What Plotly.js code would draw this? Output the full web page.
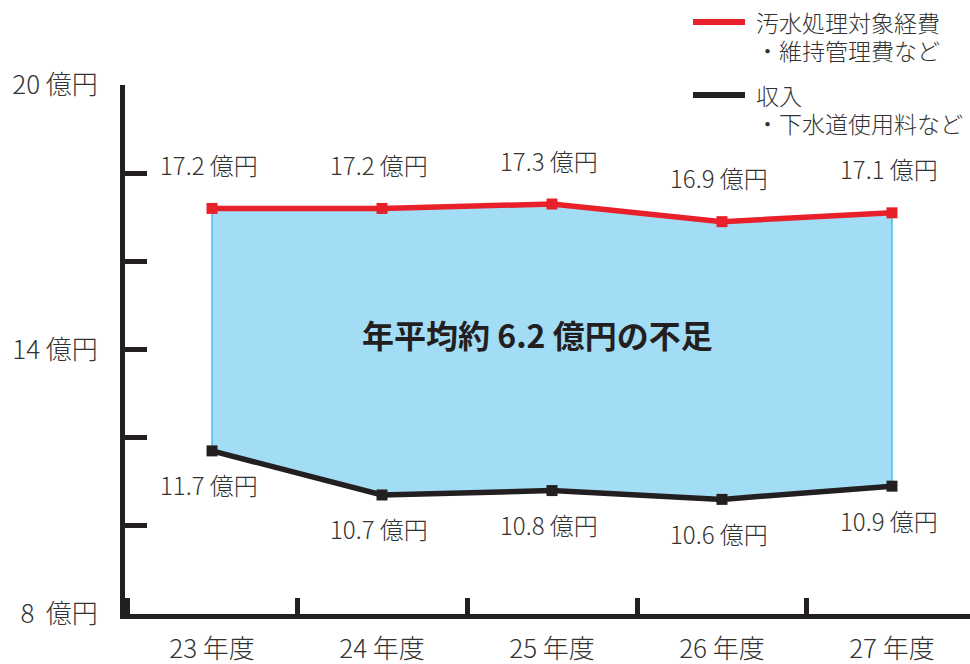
<!DOCTYPE html>
<html>
<head>
<meta charset="utf-8">
<script src="https://cdn.plot.ly/plotly-3.0.1.min.js"></script>
<style>html,body{margin:0;padding:0;background:#fff;}#chart{width:970px;height:664px;}</style>
</head>
<body>
<div id="chart"></div>
<script>
// ---- data ----
const years = ['23 年度', '24 年度', '25 年度', '26 年度', '27 年度'];
const expense = [17.2, 17.2, 17.3, 16.9, 17.1];   // 汚水処理対象経費
const income = [11.7, 10.7, 10.8, 10.6, 10.9];    // 収入
const yTickVals = [8, 10, 12, 14, 16, 18, 20];
const yTickText = ['8  億円', '', '', '14 億円', '', '', '20 億円'];
const expenseName = ['汚水処理対象経費', '・維持管理費など'];
const incomeName = ['収入', '・下水道使用料など'];
const centerText = '年平均約 6.2 億円の不足';
const unit = ' 億円';

// ---- style ----
const FONT = '"Noto Sans CJK JP", "Noto Sans", sans-serif';
const RED = '#e8202a';
const BLACK = '#231f20';
const TEXT = '#333333';
const FILL = '#a3dcf5';
const EDGE = '#45bdf0';

const L = 125, R = 0, T = 85, B = 50, W = 970, H = 664;
const pw = W - L - R, ph = H - T - B;
const px = v => (v - L) / pw;
const py = v => (H - B - v) / ph;

const last = years.length - 1;
const traces = [
  {x: years, y: expense, mode: 'lines', line: {color: 'rgba(0,0,0,0)', width: 0}, hoverinfo: 'skip', showlegend: false},
  {x: years, y: income, mode: 'lines', fill: 'tonexty', fillcolor: FILL, line: {color: 'rgba(0,0,0,0)', width: 0}, hoverinfo: 'skip', showlegend: false},
  {x: [years[0], years[0], null, years[last], years[last]],
   y: [expense[0], income[0], null, expense[last], income[last]],
   mode: 'lines', line: {color: EDGE, width: 1.5}, hoverinfo: 'skip', showlegend: false},
  {x: years, y: expense, mode: 'lines+markers', line: {color: RED, width: 5.5},
   marker: {symbol: 'square', size: 11, color: RED}, cliponaxis: false, showlegend: false},
  {x: years, y: income, mode: 'lines+markers', line: {color: BLACK, width: 5.5},
   marker: {symbol: 'square', size: 11, color: BLACK}, cliponaxis: false, showlegend: false}
];

const lblFont = {family: FONT, size: 24, color: TEXT, weight: 300};
const annotations = [];
years.forEach((c, i) => {
  annotations.push({x: c, y: expense[i], xref: 'x', yref: 'y', text: expense[i].toFixed(1) + unit,
    showarrow: false, yshift: 44, xshift: -3, font: lblFont});
  annotations.push({x: c, y: income[i], xref: 'x', yref: 'y', text: income[i].toFixed(1) + unit,
    showarrow: false, yshift: -34, xshift: -3, font: lblFont});
});
annotations.push({x: 2, y: (Math.max(...expense) + Math.min(...income)) / 2, xref: 'x', yref: 'y',
  text: '<b>' + centerText + '</b>', showarrow: false, xshift: -15, yshift: 18,
  font: {family: FONT, size: 32, color: BLACK}});
const legFont = {family: FONT, size: 23, color: TEXT, weight: 300};
[[expenseName, 22], [incomeName, 95]].forEach(([lines, y0]) => {
  lines.forEach((t, k) => {
    annotations.push({x: px(755), y: py(y0 + k * 28), xref: 'paper', yref: 'paper', xanchor: 'left', yanchor: 'middle',
      text: t, showarrow: false, font: legFont, borderpad: 0});
  });
});

const shapes = [
  {type: 'line', xref: 'paper', yref: 'paper', x0: px(693), x1: px(745), y0: py(22), y1: py(22), line: {color: RED, width: 6}},
  {type: 'line', xref: 'paper', yref: 'paper', x0: px(693), x1: px(745), y0: py(95), y1: py(95), line: {color: BLACK, width: 6}}
];

const layout = {
  width: W, height: H,
  margin: {l: L, r: R, t: T, b: B, pad: 0},
  paper_bgcolor: '#ffffff', plot_bgcolor: 'rgba(0,0,0,0)',
  showlegend: false,
  font: {family: FONT, color: TEXT},
  xaxis: {
    type: 'category', range: [-0.512, 4.459], tickson: 'boundaries',
    showline: true, linecolor: BLACK, linewidth: 5,
    ticks: 'inside', ticklen: 16, tickwidth: 5, tickcolor: BLACK,
    showgrid: false, zeroline: false, fixedrange: true,
    tickfont: {family: FONT, size: 26, color: TEXT, weight: 300}, ticklabelstandoff: 8
  },
  yaxis: {
    range: [8, 20], tickmode: 'array', tickvals: yTickVals, ticktext: yTickText,
    showline: true, linecolor: BLACK, linewidth: 5,
    ticks: 'inside', ticklen: 22, tickwidth: 5, tickcolor: BLACK,
    showgrid: false, zeroline: false, fixedrange: true,
    tickfont: {family: FONT, size: 26, color: TEXT, weight: 300}, ticklabelstandoff: 17
  },
  annotations: annotations,
  shapes: shapes
};

Plotly.newPlot('chart', traces, layout, {staticPlot: true, displayModeBar: false});
</script>
</body>
</html>
